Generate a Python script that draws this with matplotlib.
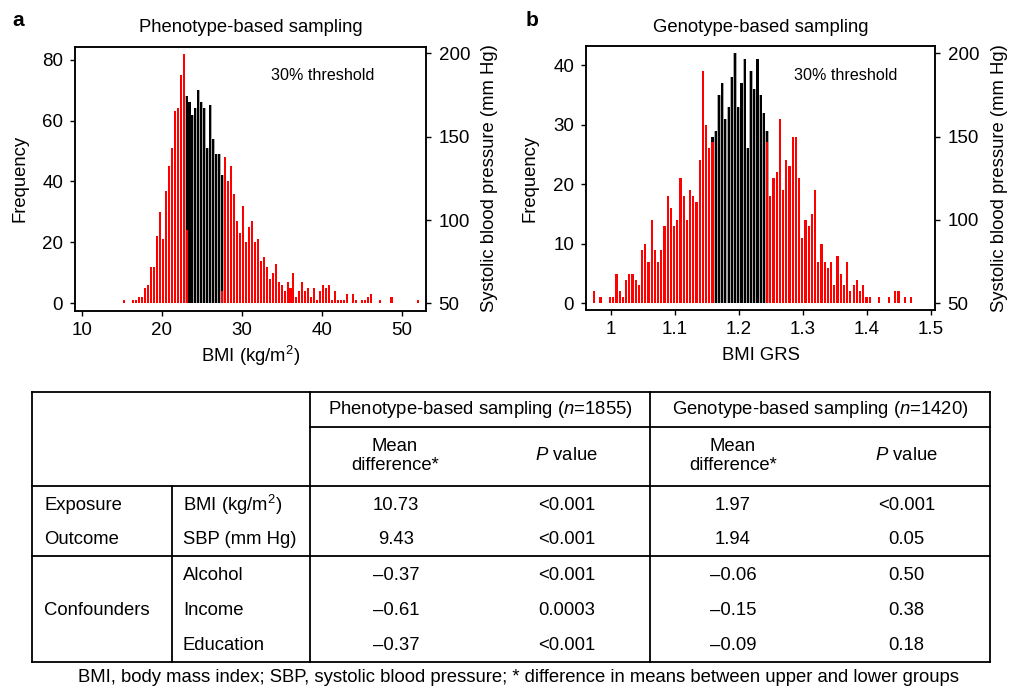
"""
BMI 分布のヒストグラム2枚と平均差の表を描くスクリプト
"""
import numpy as np
import matplotlib
matplotlib.use("Agg")
import matplotlib.pyplot as plt

# ---- data: panel a (phenotype-based, BMI bins) ----
bmi_bin_start = 15.3
bmi_bin_width = 0.371
bmi_counts = [1, 0, 0, 1, 1, 2, 2, 5, 6, 12,
              12, 22, 30, 21, 37, 45, 51, 63, 64, 75,
              82, 68, 66, 62, 64, 70, 66, 64, 51, 65,
              54, 49, 49, 42, 48, 40, 45, 36, 27, 23,
              32, 20, 25, 27, 20, 21, 14, 15, 12, 8,
              10, 13, 7, 6, 4, 7, 5, 10, 2, 4,
              7, 4, 5, 2, 5, 1, 4, 6, 5, 6,
              1, 4, 1, 1, 1, 3, 0, 3, 1, 0,
              1, 1, 2, 3, 0, 0, 1, 0, 0, 0,
              2, 0, 0, 0, 0, 0, 0, 0, 0, 1]
bmi_middle = (21, 33)          # bins in the middle 40% (black)
bmi_edge_red = {21: 24, 33: 4}  # red part of the two threshold bins

# ---- data: panel b (genotype-based, BMI GRS bins) ----
grs_bin_start = 0.974
grs_bin_width = 0.005
grs_counts = [2, 0, 1, 0, 0, 1, 1, 5, 2, 1,
              4, 5, 5, 4, 3, 9, 10, 7, 14, 9,
              7, 9, 13, 18, 16, 13, 14, 21, 18, 14,
              19, 18, 17, 24, 39, 30, 26, 28, 29, 35,
              37, 31, 33, 38, 42, 33, 37, 41, 26, 39,
              36, 41, 35, 32, 29, 18, 21, 22, 31, 19,
              24, 23, 28, 28, 21, 11, 14, 13, 15, 19,
              7, 10, 7, 6, 7, 3, 8, 5, 3, 7,
              2, 3, 4, 2, 3, 1, 1, 0, 0, 1,
              0, 0, 1, 0, 2, 2, 0, 1, 0, 1]
grs_middle = (37, 54)
grs_edge_red = {37: 27, 54: 27}

# ---- data: table ----
group_labels = ["Exposure", "Outcome", "Confounders"]
var_labels = ["BMI (kg/m$^2$)", "SBP (mm Hg)", "Alcohol", "Income", "Education"]
pheno_diff = ["10.73", "9.43", "\u20130.37", "\u20130.61", "\u20130.37"]
pheno_p = ["<0.001", "<0.001", "<0.001", "0.0003", "<0.001"]
geno_diff = ["1.97", "1.94", "\u20130.06", "\u20130.15", "\u20130.09"]
geno_p = ["<0.001", "0.05", "0.50", "0.38", "0.18"]

plt.rcParams["font.family"] = ["Liberation Sans", "DejaVu Sans"]
plt.rcParams["mathtext.fontset"] = "custom"
plt.rcParams["mathtext.rm"] = "Liberation Sans"
plt.rcParams["mathtext.it"] = "Liberation Sans:italic"
plt.rcParams["font.size"] = 13.3

RED = "#ff0000"


def draw_hist(ax, start, width, counts, middle, edge_red):
    """ 中央40%を黒、上下30%を赤で描く """
    counts = np.asarray(counts, dtype=float)
    centers = start + width * np.arange(len(counts))
    lo, hi = middle
    idx = np.arange(len(counts))
    in_mid = (idx >= lo) & (idx <= hi)
    red = np.where(in_mid, 0.0, counts)
    for k, v in edge_red.items():
        red[k] = v
    black = np.where(in_mid, counts, 0.0)
    ax.bar(centers[in_mid], black[in_mid], width=width, color="#a8a8a8",
           linewidth=0, zorder=1)
    ax.bar(centers[in_mid], black[in_mid], width=width * 0.68, color="black",
           linewidth=0, zorder=2)
    m = red > 0
    ax.bar(centers[m], red[m], width=width * 0.68, color=RED,
           linewidth=0, zorder=3)


def style_axes(ax, ax2):
    for a in (ax, ax2):
        for s in a.spines.values():
            s.set_linewidth(1.1)
        a.tick_params(length=3.5, width=1.0, labelsize=13.5)
    ax.tick_params(axis="x", pad=4.5)
    ax.tick_params(axis="y", pad=5)
    ax2.tick_params(axis="y", pad=5.5)


fig = plt.figure(figsize=(10.13, 6.89), dpi=100)

# panel a
ax_a = fig.add_axes([75 / 1013, 1 - 311 / 689, 351 / 1013, 264.3 / 689])
draw_hist(ax_a, bmi_bin_start, bmi_bin_width, bmi_counts, bmi_middle, bmi_edge_red)
ax_a.set_xlim(9.16, 53.0)
ax_a.set_ylim(-2.6, 84.3)
ax_a.set_xticks([10, 20, 30, 40, 50])
ax_a.set_yticks([0, 20, 40, 60, 80])
ax_a2 = ax_a.twinx()
ax_a2.set_ylim(45.4, 204.0)
ax_a2.set_yticks([50, 100, 150, 200])
style_axes(ax_a, ax_a2)

# panel b
ax_b = fig.add_axes([586 / 1013, 1 - 310 / 689, 349 / 1013, 264 / 689])
draw_hist(ax_b, grs_bin_start, grs_bin_width, grs_counts, grs_middle, grs_edge_red)
ax_b.set_xlim(0.9615, 1.506)
ax_b.set_ylim(-1.12, 43.2)
ax_b.set_xticks([1.0, 1.1, 1.2, 1.3, 1.4, 1.5])
ax_b.set_xticklabels(["1", "1.1", "1.2", "1.3", "1.4", "1.5"])
ax_b.set_yticks([0, 10, 20, 30, 40])
ax_b2 = ax_b.twinx()
ax_b2.set_ylim(46.0, 204.4)
ax_b2.set_yticks([50, 100, 150, 200])
style_axes(ax_b, ax_b2)

# overlay in pixel coordinates for labels and the table
ov = fig.add_axes([0, 0, 1, 1])
ov.set_xlim(0, 1013)
ov.set_ylim(689, 0)
ov.axis("off")
ov.patch.set_visible(False)

ov.text(18, 20, "a", fontsize=15, fontweight="bold", ha="center", va="center")
ov.text(532, 20, "b", fontsize=15, fontweight="bold", ha="center", va="center")
ov.text(250.5, 27, "Phenotype-based sampling", ha="center", va="center")
ov.text(760.5, 27, "Genotype-based sampling", ha="center", va="center")
ov.text(323, 75, "30% threshold", fontsize=11.6, ha="center", va="center")
ov.text(846, 75, "30% threshold", fontsize=11.6, ha="center", va="center")
ov.text(250.5, 356, "BMI (kg/m$^2$)", ha="center", va="center")
ov.text(760.5, 356, "BMI GRS", ha="center", va="center")
for x in (20, 530):
    ov.text(x, 178, "Frequency", rotation=90, ha="center", va="center")
for x in (490, 1000):
    ov.text(x, 178, "Systolic blood pressure (mm Hg)", rotation=90,
            ha="center", va="center")

# table lines
lw = 1.3
def hline(y, x0, x1):
    ov.plot([x0, x1], [y, y], color="black", lw=lw, solid_capstyle="projecting")

def vline(x, y0, y1):
    ov.plot([x, x], [y0, y1], color="black", lw=lw, solid_capstyle="projecting")

L, R, T, B = 32, 990, 392, 662
hline(T, L, R)
hline(B, L, R)
vline(L, T, B)
vline(R, T, B)
vline(310, T, B)
vline(650, T, B)
vline(172.3, 486, B)
hline(426.7, 310, R)
hline(486, L, R)
hline(555.7, L, R)

ov.text(480, 410, "Phenotype-based sampling ($\\mathit{n}$=1855)", ha="center", va="center")
ov.text(820, 410, "Genotype-based sampling ($\\mathit{n}$=1420)", ha="center", va="center")
for x in (395, 733):
    ov.text(x, 456, "Mean\ndifference*", ha="center", va="center", linespacing=1.15)
for x in (566.7, 906.7):
    ov.text(x, 456, "$\\mathit{P}$ value", ha="center", va="center")

row_y = [505, 540, 575, 610.7, 645.7]
for y, g in zip([505, 540, 610.7], group_labels):
    ov.text(44, y, g, ha="left", va="center")
for y, v, d1, p1, d2, p2 in zip(row_y, var_labels, pheno_diff, pheno_p, geno_diff, geno_p):
    ov.text(183, y, v, ha="left", va="center")
    ov.text(396, y, d1, ha="center", va="center")
    ov.text(566.7, y, p1, ha="center", va="center")
    ov.text(733, y, d2, ha="center", va="center")
    ov.text(906.7, y, p2, ha="center", va="center")

ov.text(518, 677.7, "BMI, body mass index; SBP, systolic blood pressure; "
        "* difference in means between upper and lower groups",
        ha="center", va="center")

fig.savefig("out.png", dpi=100)
